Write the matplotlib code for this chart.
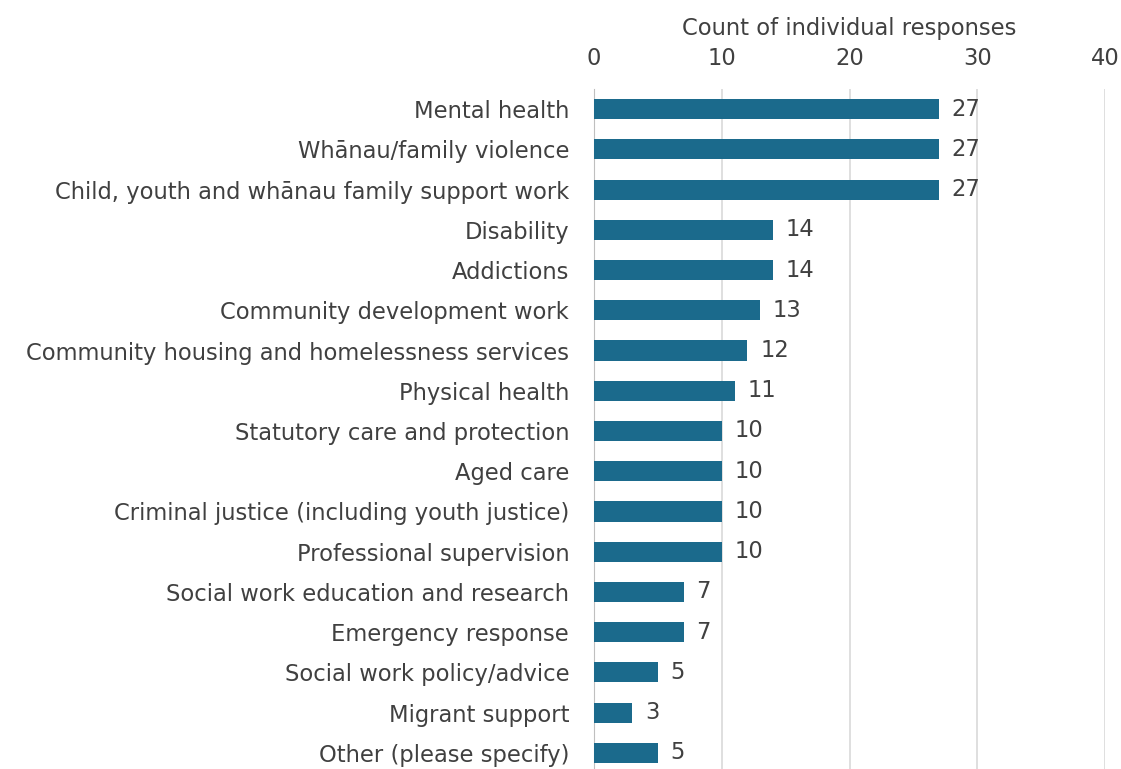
import matplotlib.pyplot as plt
import numpy as np

categories = [
    "Mental health",
    "Whānau/family violence",
    "Child, youth and whānau family support work",
    "Disability",
    "Addictions",
    "Community development work",
    "Community housing and homelessness services",
    "Physical health",
    "Statutory care and protection",
    "Aged care",
    "Criminal justice (including youth justice)",
    "Professional supervision",
    "Social work education and research",
    "Emergency response",
    "Social work policy/advice",
    "Migrant support",
    "Other (please specify)",
]
counts = [27, 27, 27, 14, 14, 13, 12, 11, 10, 10, 10, 10, 7, 7, 5, 3, 5]
x_ticks = [0, 10, 20, 30, 40]

plt.rcParams['font.family'] = ['DejaVu Sans']
text_color = '#404040'
bar_color = '#1b6a8c'
fs = 16.3

fig = plt.figure(figsize=(11.21, 7.69), dpi=100)
ax = fig.add_axes([0.530, -0.0052, 0.4557, 0.8895])

y = np.arange(len(categories))
ax.barh(y, counts, height=0.5, color=bar_color, zorder=3)
for yi, c in zip(y, counts):
    ax.text(c + 1.0, yi, str(c), va='center', ha='left', fontsize=fs, color=text_color)

ax.set_ylim(len(categories) - 0.5, -0.5)
ax.set_xlim(0, 40)
ax.set_yticks(y)
ax.set_yticklabels(categories, fontsize=fs, color=text_color)
ax.xaxis.tick_top()
ax.xaxis.set_label_position('top')
ax.set_xticks(x_ticks)
ax.set_xticklabels([str(t) for t in x_ticks], fontsize=fs, color=text_color)
ax.set_xlabel('Count of individual responses', fontsize=fs, color=text_color, labelpad=8)
ax.tick_params(axis='y', length=0, pad=18)
ax.tick_params(axis='x', length=0, pad=14)

for t in x_ticks[1:]:
    ax.axvline(t, color='#d9d9d9', lw=1.2, zorder=0)
for s in ['top', 'right', 'bottom']:
    ax.spines[s].set_visible(False)
ax.spines['left'].set_color('#bfbfbf')

fig.savefig('out.png', dpi=100)
